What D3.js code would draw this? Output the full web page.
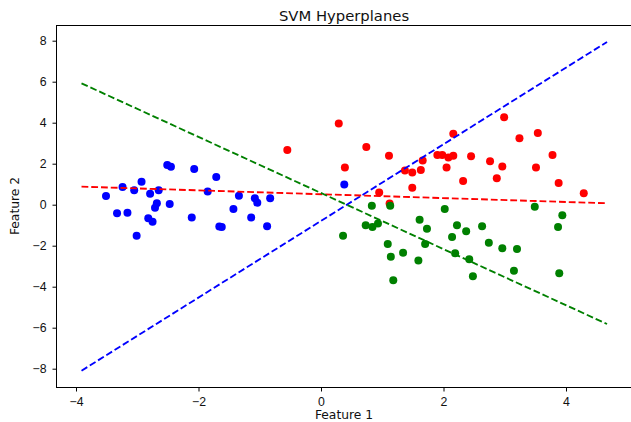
<!DOCTYPE html>
<meta charset="utf-8">
<style>
body { margin: 0; background: #fff; }
svg { display: block; font-family: "DejaVu Sans", sans-serif; }
.axis text { font-size: 12.3px; fill: #111; }
.axis line { stroke: #000; stroke-width: 1; }
.hyper { fill: none; stroke-width: 1.85; stroke-dasharray: 6.8,2.95; }
</style>
<svg width="631" height="422"></svg>
<script src="https://cdn.jsdelivr.net/npm/d3@7"></script>
<script>

// class 0 (blue)
var blueX = [-3.51,-3.33,-3.24,-3.16,-3.05,-3.01,-2.93,-2.82,-2.79,-2.75,-2.71,-2.68,-2.65,-2.51,-2.45,-2.47,-2.11,-2.07,-1.85,-1.71,-1.62,-1.66,-1.43,-1.34,-1.14,-1.08,-1.04,-0.88,-0.83,0.38];
var blueY = [0.42,-0.42,0.86,-0.39,0.70,-1.51,1.12,-0.66,0.54,-0.83,-0.15,0.07,0.70,1.94,1.85,0.03,-0.63,1.74,0.65,1.35,-1.09,-1.06,-0.21,0.44,-0.63,0.31,0.10,-1.05,0.31,0.98];

// class 1 (red)
var redX = [-0.55,0.29,0.39,0.74,1.11,0.95,1.12,1.37,1.49,1.49,1.63,1.66,1.90,1.98,2.08,2.16,2.16,2.05,2.32,2.45,2.76,2.96,2.99,3.24,3.54,3.51,2.87,3.78,3.88,4.29];
var redY = [2.67,3.96,1.82,2.81,2.39,0.60,0.06,1.67,1.57,0.83,1.69,2.16,2.42,2.42,2.30,2.39,3.46,1.81,1.16,2.36,2.12,1.86,4.26,3.24,3.50,1.82,1.29,2.43,1.06,0.56];

// class 2 (green)
var greenX = [0.83,1.13,2.02,3.49,3.94,1.61,1.73,0.73,0.84,0.93,0.36,1.09,1.34,1.70,1.14,1.59,1.18,2.22,2.37,2.63,2.14,2.74,2.96,3.20,2.19,2.42,3.15,2.48,3.87,3.89];
var greenY = [-0.05,-0.05,-0.21,-0.10,-0.51,-0.74,-1.17,-1.00,-1.09,-0.92,-1.51,-1.92,-2.34,-1.92,-2.54,-2.72,-3.68,-1.00,-1.29,-1.05,-1.58,-1.85,-2.12,-2.16,-2.37,-2.66,-3.22,-3.49,-1.09,-3.34];

// hyperplane end points
var lineX = [-3.91, 4.67];
var blueLineY = [-8.10, 7.94];
var redLineY = [0.88, 0.07];
var greenLineY = [5.92, -5.82];

var xTicks = [-4, -2, 0, 2, 4];
var yTicks = [-8, -6, -4, -2, 0, 2, 4, 6, 8];

var svg = d3.select("svg");
var frame = {left: 56, right: 632, top: 25, bottom: 387};

var x = d3.scaleLinear().domain([-4, 4]).range([76, 566]);
var y = d3.scaleLinear().domain([-8, 8]).range([368.7, 40.7]);

var fmt = function(d){ return d < 0 ? "\u2212" + Math.abs(d) : d; };

var plot = svg.append("g");

function zip(a, b){
  var out = [];
  for (var i = 0; i < a.length; i++) out.push({x: a[i], y: b[i]});
  return out;
}

var groups = [
  {pts: zip(blueX, blueY), color: "#0000ff"},
  {pts: zip(redX, redY), color: "#ff0000"},
  {pts: zip(greenX, greenY), color: "#008000"}
];

groups.forEach(function(gr){
  plot.append("g").selectAll("circle")
    .data(gr.pts)
    .enter().append("circle")
    .attr("r", 4)
    .attr("cx", function(d){ return x(d.x); })
    .attr("cy", function(d){ return y(d.y); })
    .attr("fill", gr.color);
});

var line = d3.line()
  .x(function(d){ return x(d.x); })
  .y(function(d){ return y(d.y); });

[[blueLineY, "#0000ff"], [redLineY, "#ff0000"], [greenLineY, "#008000"]].forEach(function(l){
  plot.append("path")
    .attr("class", "hyper")
    .attr("stroke", l[1])
    .attr("d", line(zip(lineX, l[0])));
});

// frame
svg.append("rect")
  .attr("x", frame.left + 0.5).attr("y", frame.top + 0.5)
  .attr("width", frame.right - frame.left).attr("height", frame.bottom - frame.top)
  .attr("fill", "none").attr("stroke", "#000").attr("stroke-width", 1);

var xAxis = svg.append("g")
  .attr("class", "axis")
  .attr("transform", "translate(0," + (frame.bottom + 0.5) + ")")
  .call(d3.axisBottom(x).tickValues(xTicks).tickSize(4).tickPadding(5.5).tickFormat(fmt));
xAxis.select(".domain").remove();

var yAxis = svg.append("g")
  .attr("class", "axis")
  .attr("transform", "translate(" + (frame.left + 0.5) + ",0)")
  .call(d3.axisLeft(y).tickValues(yTicks).tickSize(4).tickPadding(6).tickFormat(fmt));
yAxis.select(".domain").remove();

svg.append("text")
  .attr("x", (frame.left + frame.right) / 2).attr("y", 20.5)
  .attr("text-anchor", "middle").attr("font-size", "14.8px").attr("fill", "#111")
  .text("SVM Hyperplanes");

svg.append("text")
  .attr("x", (frame.left + frame.right) / 2).attr("y", 419)
  .attr("text-anchor", "middle").attr("font-size", "12.3px").attr("fill", "#111")
  .text("Feature 1");

svg.append("text")
  .attr("transform", "translate(19," + (frame.top + frame.bottom) / 2 + ") rotate(-90)")
  .attr("text-anchor", "middle").attr("font-size", "12.3px").attr("fill", "#111")
  .text("Feature 2");

</script>
